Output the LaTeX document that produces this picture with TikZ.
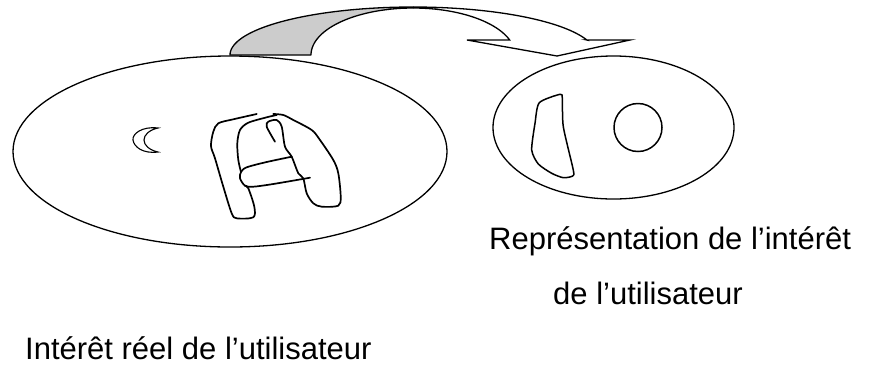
\documentclass[tikz,border=0pt]{standalone}
\usepackage{fontspec}
\setmainfont{Liberation Sans}
\usetikzlibrary{shapes.geometric}
\begin{document}
\begin{tikzpicture}[x=1pt,y=-1pt,
  outline/.style={draw=black,line width=1.3pt},
  pen/.style={draw=black,line width=1.7pt,line join=round,line cap=round},
  label/.style={font=\fontsize{31}{37}\selectfont,anchor=base west,inner sep=0pt}]
\useasboundingbox (0,0) rectangle (869,365);

% the two sets
\node[ellipse,outline,minimum width=434pt,minimum height=191pt,inner sep=0pt] (reel) at (230,151.5) {};
\node[ellipse,outline,minimum width=241pt,minimum height=143pt,inner sep=0pt] (repr) at (613.5,127.5) {};

% curved block arrow between them (back of the band shaded)
\fill[gray!40,draw=black,line width=1.3pt,line join=round]
  plot[domain=180:90,samples=40] ({413+183*cos(\x)},{55-48*sin(\x)})
  -- plot[domain=90:180,samples=40] ({413+102*cos(\x)},{55-47*sin(\x)}) -- cycle;
\draw[black,line width=1.3pt,line join=miter]
  plot[domain=90:18.6,samples=40] ({413+102*cos(\x)},{55-47*sin(\x)})
  -- (467,40) -- (557,56) -- (630,40) -- (586.8,40)
  -- plot[domain=18.2:90,samples=40] ({413+183*cos(\x)},{55-48*sin(\x)});

% crescent
\draw[black,line width=1.1pt]
  (158,128) .. controls (142,126) and (132,134) .. (133,140)
  .. controls (134,147) and (143,154) .. (158,152)
  .. controls (149,150) and (144,145) .. (144,140)
  .. controls (144,135) and (149,130) .. (158,128) -- cycle;

% hand-drawn letter
\draw[pen] plot[smooth,tension=0.5] coordinates {
  (256.7,114) (233.3,119.3) (218.3,123.3) (213.3,131.7) (211,146) (215,158.3)
  (223.3,186.7) (231.7,213.3) (236.7,218.3) (253.3,217.3) (254.3,206.7)
  (248.3,188.3) (245,185.7)};
\draw[pen] plot[smooth,tension=0.5] coordinates {
  (291.7,156.7) (266.7,162) (246.7,167.3) (241,172) (240,178.3) (245,185.7)
  (253.3,186.7) (273.3,184) (310,177.7)};
\draw[pen] plot[smooth,tension=0.5] coordinates {
  (241,172) (238.3,160) (237.3,143.3) (240,130) (248.3,122.7) (266.7,117.3) (276.7,115)};
\draw[pen] plot[smooth,tension=0.5] coordinates {
  (273.3,114) (283.3,115) (293.3,120) (311.7,130) (320,140) (333.3,160)
  (338.3,173.3) (340.7,196.7) (338.3,205.7) (321.7,206.7) (313.3,203.3)
  (306.7,193.3) (303.3,178.3) (298.3,173.3) (291.7,156.7) (285,146.7)
  (281.7,126.7) (276.7,120) (268.3,121.7) (266.7,126.7) (275,141.7)};

% contents of the representation
\draw[pen,line width=1.5pt] plot[smooth cycle,tension=0.4] coordinates {
  (539.3,102.7) (560,94.3) (562.3,98.3) (563.3,126.7) (573.3,170) (572.7,176)
  (563.3,177.7) (551.7,173.3) (538.3,164) (531.7,150) (535,123.3)};
\node[circle,draw=black,line width=1.5pt,minimum size=48pt,inner sep=0pt] (rond) at (638,127.5) {};

% captions
\node[label] (lbl1) at (489,249) {Représentation de l’intérêt};
\node[label] (lbl2) at (553,304) {de l’utilisateur};
\node[label] (lbl3) at (25,359) {Intérêt réel de l’utilisateur};
\end{tikzpicture}
\end{document}
